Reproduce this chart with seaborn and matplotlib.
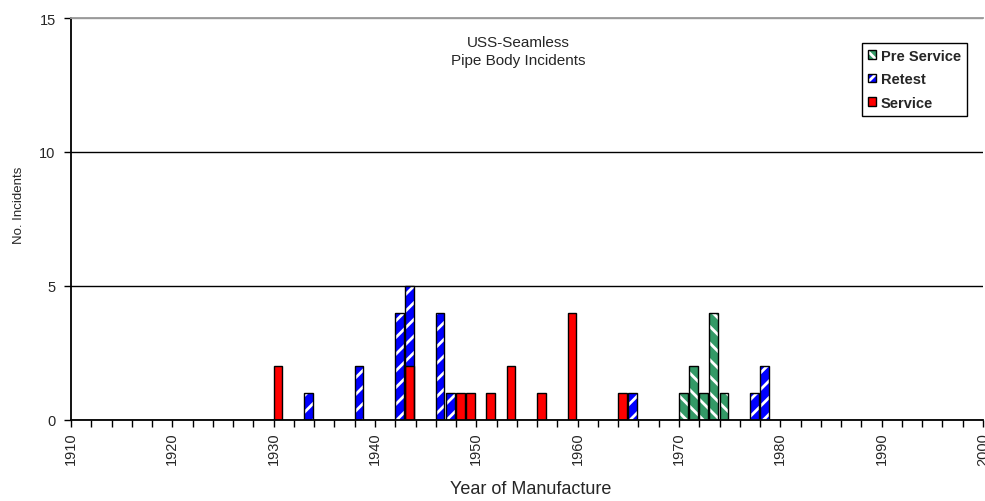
import pandas as pd
import matplotlib.pyplot as plt
import seaborn as sns
from matplotlib.patches import Patch, Rectangle
from matplotlib.ticker import MultipleLocator
from matplotlib.legend_handler import HandlerTuple

sns.set_style("white")
plt.rcParams['font.family'] = ['Liberation Sans', 'DejaVu Sans']
plt.rcParams['hatch.linewidth'] = 2.0

# data
pre_years = [1970, 1971, 1972, 1973, 1974]
pre_counts = [1, 2, 1, 4, 1]
retest_years = [1933, 1938, 1942, 1943, 1946, 1947, 1965, 1977, 1978]
retest_counts = [1, 2, 4, 5, 4, 1, 1, 1, 2]
service_years = [1930, 1943, 1948, 1949, 1951, 1953, 1956, 1959, 1964]
service_counts = [2, 2, 1, 1, 1, 2, 1, 4, 1]

green = '#339966'
blue = '#0000FF'
red = '#FF0000'
bar_w = 0.85

fig = plt.figure(figsize=(9.85, 5.02), dpi=100)
ax = fig.add_axes([71 / 985, 81 / 502, 912 / 985, 402 / 502])


def draw(years, counts, color, hatch=None):
    df = pd.DataFrame({'year': years, 'count': counts})
    # bars start at the year tick (Excel-style)
    df['pos'] = df['year'] + bar_w / 2
    n0 = len(ax.patches)
    if hatch:
        sns.barplot(data=df, x='pos', y='count', native_scale=True, ax=ax,
                    color=color, saturation=1, width=bar_w, errorbar=None,
                    edgecolor='white', linewidth=0, hatch=hatch)
        for p in ax.patches[n0:]:
            ax.add_patch(Rectangle(p.get_xy(), p.get_width(), p.get_height(),
                                   fill=False, edgecolor='black', lw=1, zorder=3))
    else:
        sns.barplot(data=df, x='pos', y='count', native_scale=True, ax=ax,
                    color=color, saturation=1, width=bar_w, errorbar=None,
                    edgecolor='black', linewidth=1)


draw(pre_years, pre_counts, green, '\\\\')
draw(retest_years, retest_counts, blue, '//')
draw(service_years, service_counts, red)

ax.set_xlim(1910, 2000)
ax.set_ylim(0, 15)
ax.set_xlabel('')
ax.set_ylabel('')

ax.xaxis.set_major_locator(MultipleLocator(10))
ax.xaxis.set_minor_locator(MultipleLocator(2))
ax.tick_params(axis='x', which='both', direction='out', length=5, width=1,
               color='black', bottom=True, labelrotation=90, labelsize=10.5)
ax.set_yticks([0, 5, 10, 15])
ax.tick_params(axis='y', direction='out', length=5, width=1, color='black',
               left=True, labelsize=10.5, pad=6)

ax.yaxis.grid(True, color='black', lw=1)
ax.get_ygridlines()[-1].set_color('#999999')
ax.set_axisbelow(True)
for s in ['left', 'bottom']:
    ax.spines[s].set_color('black')
    ax.spines[s].set_linewidth(1.3)
ax.spines['top'].set_color('#999999')
ax.spines['top'].set_linewidth(1.3)
ax.spines['right'].set_visible(False)

ax.text(0.49, 0.918, 'USS-Seamless\nPipe Body Incidents', transform=ax.transAxes,
        ha='center', va='center', fontsize=11, linespacing=1.35)

handles = [
    (Patch(facecolor=green, edgecolor='white', hatch='\\\\', lw=0),
     Patch(fill=False, edgecolor='black', lw=1)),
    (Patch(facecolor=blue, edgecolor='white', hatch='//', lw=0),
     Patch(fill=False, edgecolor='black', lw=1)),
    Patch(facecolor=red, edgecolor='black', lw=1),
]
leg = ax.legend(handles, ['Pre Service', 'Retest', 'Service'],
                handler_map={tuple: HandlerTuple(ndivide=1, pad=0)},
                loc='upper right', bbox_to_anchor=(0.982, 0.938), borderaxespad=0,
                fancybox=False, framealpha=1, edgecolor='black',
                prop={'size': 10.5, 'weight': 'bold'}, handlelength=0.55,
                handleheight=0.55, handletextpad=0.35, labelspacing=0.65,
                borderpad=0.4)
leg.get_frame().set_linewidth(1)

fig.text(19 / 985, 1 - 205 / 502, 'No. Incidents', rotation=90,
         ha='center', va='center', fontsize=9.5)
fig.text(531 / 985, 12 / 502, 'Year of Manufacture', ha='center', va='center',
         fontsize=13)

fig.savefig('out.png', dpi=100)
